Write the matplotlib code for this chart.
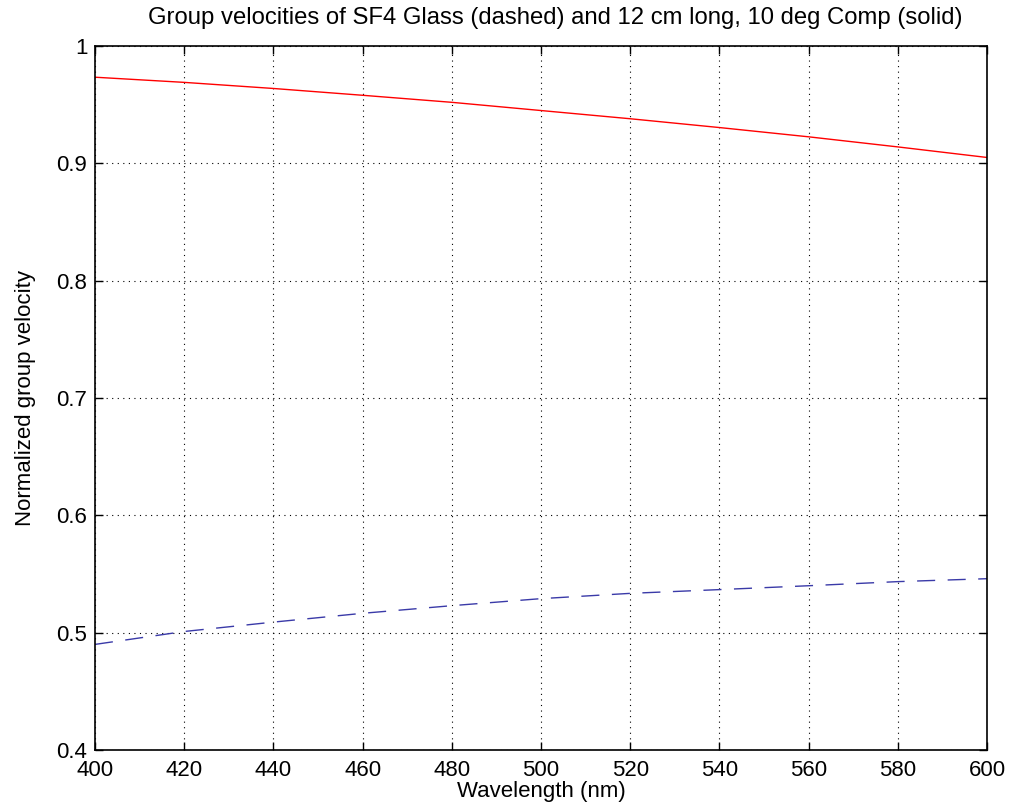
import numpy as np
import matplotlib
matplotlib.use("Agg")
import matplotlib.pyplot as plt

plt.rcParams['font.family'] = ['Liberation Sans', 'DejaVu Sans']

# wavelengths (nm) read at the grid lines
wavelength = [400, 420, 440, 460, 480, 500, 520, 540, 560, 580, 600]

# 12 cm long, 10 deg compressor (solid red)
comp_vg = [0.9734, 0.969, 0.9638, 0.958, 0.952, 0.945, 0.938, 0.9305, 0.9226, 0.914, 0.905]

# SF4 glass (dashed blue)
glass_vg = [0.490, 0.501, 0.509, 0.5165, 0.523, 0.529, 0.5335, 0.5367, 0.540, 0.5435, 0.546]

fig = plt.figure(figsize=(10.09, 8.11), dpi=100)
ax = fig.add_axes([95 / 1009, 61 / 811, 892 / 1009, 704 / 811])

ax.plot(wavelength, comp_vg, color='#ff0000', lw=1.0)
ax.plot(wavelength, glass_vg, color='#3a3aa8', lw=1.0, dashes=(13, 9))

ax.set_xlim(400, 600)
ax.set_ylim(0.4, 1.0)
ax.set_xticks(np.arange(400, 601, 20))
ax.set_yticks([0.4, 0.5, 0.6, 0.7, 0.8, 0.9, 1.0])
ax.set_yticklabels(['0.4', '0.5', '0.6', '0.7', '0.8', '0.9', '1'])

ax.grid(True, color='black', linestyle=(0, (1, 4)), linewidth=0.8)
ax.tick_params(direction='in', top=True, right=True, length=6, width=1,
               labelsize=16)
ax.tick_params(axis='x', pad=7)
ax.tick_params(axis='y', pad=5.5)
for s in ax.spines.values():
    s.set_linewidth(1.2)

ax.set_xlabel('Wavelength (nm)', fontsize=16, labelpad=0)
ax.set_ylabel('Normalized group velocity', fontsize=16, labelpad=15)
ax.set_title('Group velocities of SF4 Glass (dashed) and 12 cm long, 10 deg Comp (solid)',
             fontsize=17.2, pad=16, x=0.516)

fig.savefig('out.png', dpi=100, facecolor='white')
